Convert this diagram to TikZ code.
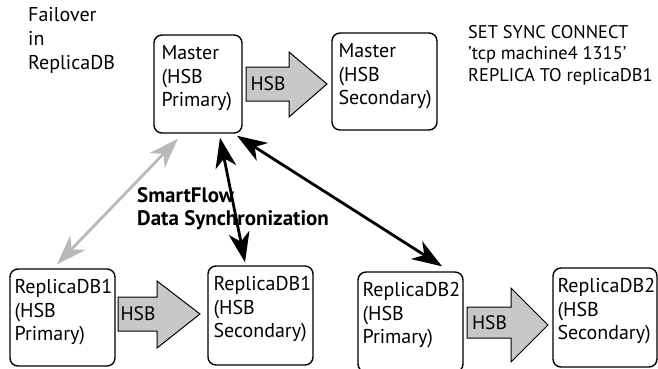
\documentclass[tikz,border=0pt]{standalone}
\usepackage{fontspec}
\setmainfont{PT Sans}
\usetikzlibrary{arrows.meta,calc}

\definecolor{hsbfill}{RGB}{200,200,200}
\definecolor{syncgray}{RGB}{185,185,185}

\begin{document}
\begin{tikzpicture}[x=1pt,y=-1pt,
  dbbox/.style={draw=black, line width=1.4pt, rounded corners=8pt, fill=white,
    inner sep=0pt},
  boxtext/.style={anchor=north west, inner sep=0pt, align=left,
    font=\fontsize{20}{23.5}\selectfont},
  plaintext/.style={anchor=north west, inner sep=0pt, align=left,
    font=\fontsize{20}{24}\selectfont},
  hsbarrow/.style={draw=black, line width=1pt, fill=hsbfill, line join=miter},
  hsblabel/.style={inner sep=0pt, font=\fontsize{19.5}{23}\selectfont},
  synclink/.style={line width=2.8pt, {Stealth[length=30pt,width=21pt,inset=9pt]}-{Stealth[length=30pt,width=21pt,inset=9pt]}},
]
\useasboundingbox (0,0) rectangle (658,368);

% database boxes
\node[dbbox, minimum width=88pt, minimum height=98pt] (MP) at (198,84) {};
\node[dbbox, minimum width=105pt, minimum height=97pt] (MS) at (384.5,81.5) {};
\node[dbbox, minimum width=105pt, minimum height=97pt] (R1P) at (62.5,317.5) {};
\node[dbbox, minimum width=105pt, minimum height=99pt] (R1S) at (260.5,315.5) {};
\node[dbbox, minimum width=105pt, minimum height=100pt] (R2P) at (410.5,322) {};
\node[dbbox, minimum width=104pt, minimum height=99pt] (R2S) at (605,317.5) {};

% box captions, set just inside each box's top left corner
\node[boxtext] (tMP) at ($(MP.north west)+(8,11)$) {Master\\(HSB\\Primary)};
\node[boxtext] (tMS) at ($(MS.north west)+(7,11)$) {Master\\(HSB\\Secondary)};
\node[boxtext] (tR1P) at ($(R1P.north west)+(5,11)$) {ReplicaDB1\\(HSB\\Primary)};
\node[boxtext] (tR1S) at ($(R1S.north west)+(6,11)$) {ReplicaDB1\\(HSB\\Secondary)};
\node[boxtext] (tR2P) at ($(R2P.north west)+(5,11)$) {ReplicaDB2\\(HSB\\Primary)};
\node[boxtext] (tR2S) at ($(R2S.north west)+(5,11)$) {ReplicaDB2\\(HSB\\Secondary)};

% HSB block arrows between primary and secondary
\draw[hsbarrow] (246,67) -- (289,67) -- (289,52) -- (327,84) -- (289,117)
  -- (289,101) -- (246,101) -- cycle;
\node[hsblabel] (hsbM) at (268,84) {HSB};

\draw[hsbarrow] (118,297) -- (157,297) -- (157,281) -- (200,314) -- (157,348)
  -- (157,331) -- (118,331) -- cycle;
\node[hsblabel] (hsbR1) at (138,314) {HSB};

\draw[hsbarrow] (467,307) -- (511,307) -- (511,288) -- (548,325) -- (511,362)
  -- (511,338) -- (467,338) -- cycle;
\node[hsblabel] (hsbR2) at (489.5,322.5) {HSB};

% SmartFlow synchronization links
\draw[synclink, draw=syncgray, fill=syncgray]
  ([xshift=-20pt,yshift=-5pt]MP.south) -- ([xshift=-5.5pt,yshift=4pt]R1P.north);
\draw[synclink]
  ([xshift=22pt,yshift=-4pt]MP.south) -- ([xshift=-15.5pt,yshift=3pt]R1S.north);
\draw[synclink]
  ([xshift=39pt,yshift=-2pt]MP.south) -- ([xshift=31.5pt,yshift=5pt]R2P.north);

\node[plaintext, font=\fontsize{21}{23}\selectfont\bfseries] (sf) at (137,187)
  {SmartFlow\\Data Synchronization};

% free-standing notes
\node[plaintext] (fail) at (28,7) {Failover\\in\\ReplicaDB};
\node[plaintext, font=\fontsize{18.4}{21.5}\selectfont] (cmd) at (468,25)
  {SET SYNC CONNECT\\'tcp machine4 1315'\\REPLICA TO replicaDB1};
\end{tikzpicture}
\end{document}
